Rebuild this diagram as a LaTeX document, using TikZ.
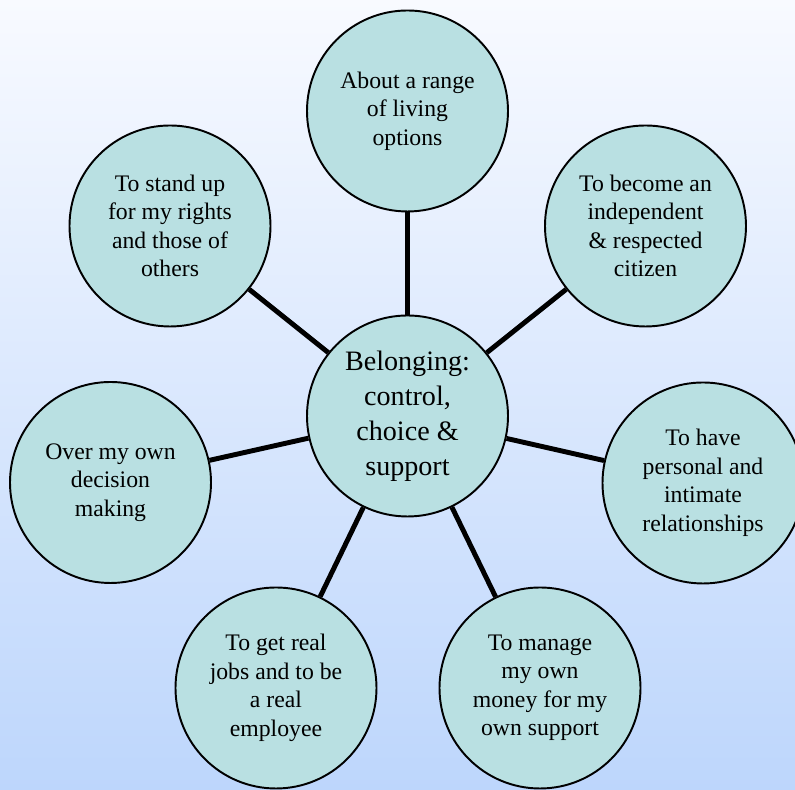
\documentclass[tikz,border=0pt]{standalone}
\usepackage{fontspec}
\setmainfont{Liberation Serif}
\newfontfamily\policebulle{Liberation Serif}
\usepackage{tikz}
\usetikzlibrary{shapes, calc, backgrounds}
\definecolor{bulleteal}{RGB}{185,224,226}
\definecolor{fondhaut}{RGB}{248,250,255}
\definecolor{fondbas}{RGB}{189,214,252}
\tikzstyle{bulle} = [
    circle,
    minimum size = 4.02cm,
    inner sep = 0pt,
    align = center,
    fill = bulleteal,
    draw = black,
    line width = 1.1pt,
    font = \policebulle\fontsize{13.5}{16.2}\selectfont,
]
\tikzstyle{lien} = [
    line width = 2.8pt,
    draw = black,
]

\begin{document}
\begin{tikzpicture}
    \useasboundingbox (0, 0) rectangle (15.9, 15.8);
    \clip (0, 0) rectangle (15.9, 15.8);
    \fill[top color = fondhaut, bottom color = fondbas] (0, 0) rectangle (15.9, 15.8);

    \node (Appartenance) [bulle, font = \policebulle\fontsize{16}{20}\selectfont] at (8.15, 7.48) {Belonging:\\control,\\choice \&\\support};

    \node (Logement) [bulle] at ($(Appartenance) + (0, 6.1)$) {About a range\\of living\\options};
    \node (Citoyen) [bulle] at ($(Appartenance) + (4.76, 3.8)$) {To become an\\independent\\\& respected\\citizen};
    \node (Relations) [bulle] at ($(Appartenance) + (5.91, -1.34)$) {To have\\personal and\\intimate\\relationships};
    \node (Argent) [bulle] at ($(Appartenance) + (2.65, -5.44)$) {To manage\\my own\\money for my\\own support};
    \node (Emploi) [bulle] at ($(Appartenance) + (-2.63, -5.44)$) {To get real\\jobs and to be\\a real\\employee};
    \node (Decisions) [bulle] at ($(Appartenance) + (-5.94, -1.33)$) {Over my own\\decision\\making};
    \node (Droits) [bulle] at ($(Appartenance) + (-4.75, 3.8)$) {To stand up\\for my rights\\and those of\\others};

    \draw[lien] (Appartenance) -- (Logement);
    \draw[lien] (Appartenance) -- (Citoyen);
    \draw[lien] (Appartenance) -- (Relations);
    \draw[lien] (Appartenance) -- (Argent);
    \draw[lien] (Appartenance) -- (Emploi);
    \draw[lien] (Appartenance) -- (Decisions);
    \draw[lien] (Appartenance) -- (Droits);
\end{tikzpicture}
\end{document}
